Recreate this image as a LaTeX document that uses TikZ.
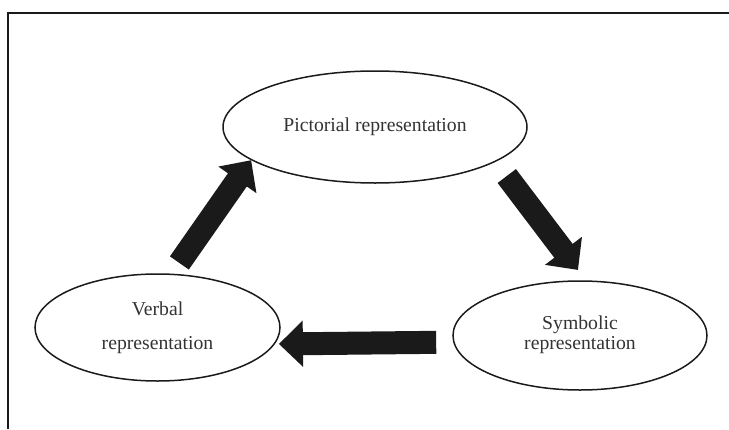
\documentclass[tikz,border=0pt]{standalone}
\usepackage{fontspec}
\setmainfont{Liberation Serif}
\usetikzlibrary{arrows.meta,shapes.geometric}
\definecolor{ink}{HTML}{1A1A1A}
\definecolor{txt}{HTML}{333333}

\begin{document}
\begin{tikzpicture}[
    x=0.5pt,y=-0.5pt,
    font=\fontsize{9.85pt}{11pt}\selectfont,
    rep/.style={ellipse,draw=ink,line width=0.75pt,inner sep=0pt,
        text=txt,align=center},
    blockarrow/.style={ink,line width=11.5pt,
        -{Triangle[length=12pt,width=22.5pt]}},
  ]

  % ============================================================= FRAME
  \useasboundingbox (0,0) rectangle (729,429);
  \draw[ink,line width=1pt] (8,429) -- (8,13) -- (729,13);

  % ============================================================= STAGES
  \node[rep,minimum width=152pt,minimum height=56pt] (pict) at (375,127)
    {\raisebox{2.5pt}{Pictorial representation}};
  \node[rep,minimum width=122.5pt,minimum height=53.5pt] (verb) at (157.5,327.5)
    {Verbal\\[6pt]representation};
  \node[rep,minimum width=127pt,minimum height=54.5pt] (symb) at (580,335.5)
    {\raisebox{2pt}{\begin{tabular}{@{}c@{}}Symbolic\\[-1pt]representation\end{tabular}}};

  % ============================================================= ARROWS
  % cycle: verbal -> pictorial -> symbolic -> verbal
  \draw[blockarrow,shorten <=6.5pt] (verb.75) -- (pict.195);
  \draw[blockarrow,shorten <=9pt,shorten >=6.5pt] (pict.344) -- (symb.84);
  \draw[blockarrow,shorten <=8.5pt,shorten >=2pt] (symb.183.4) -- (verb.352.7);

\end{tikzpicture}
\end{document}
